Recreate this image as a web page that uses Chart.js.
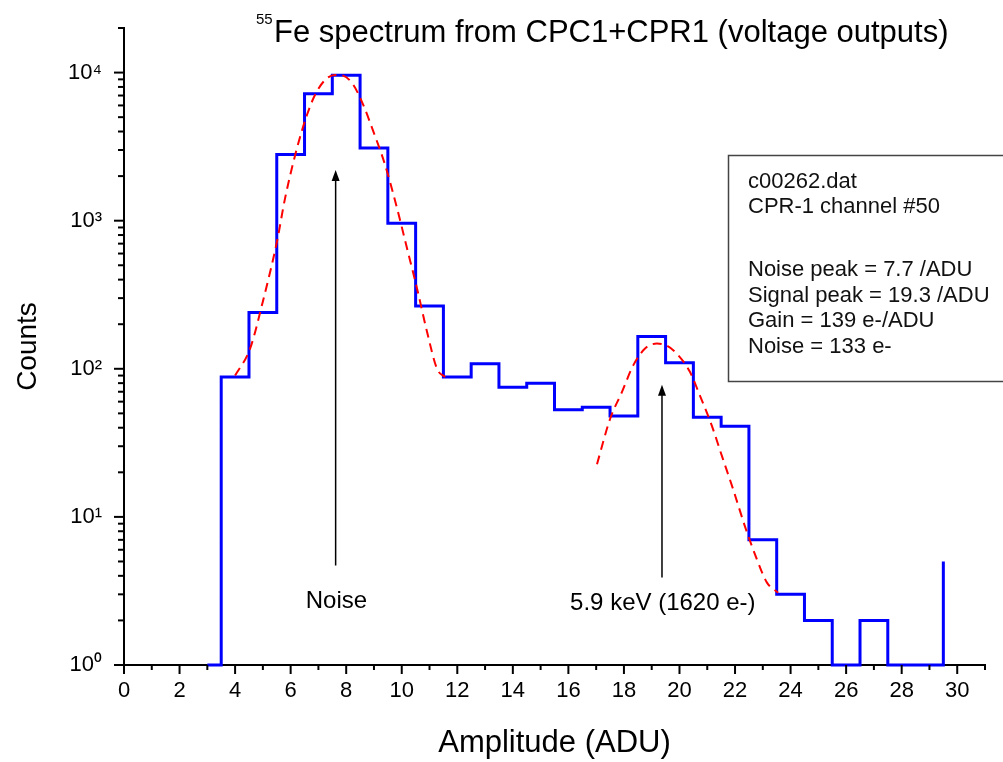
<!DOCTYPE html>
<html>
<head>
<meta charset="utf-8">
<script src="https://cdn.jsdelivr.net/npm/chart.js@4.4.0/dist/chart.umd.min.js"></script>
<style>
  html, body { margin: 0; padding: 0; background: #fff; }
  #wrap { width: 1003px; height: 762px; }
</style>
</head>
<body>
<div id="wrap"><canvas id="spectrumChart"></canvas></div>
<script>
// histogram: left edge of each bin and its count
// (empty bins are drawn on the 10^0 axis line, so they are given as 1)
const binEdges = [3, 3.5, 4.5, 5.5, 6.5, 7.5, 8.5, 9.5, 10.5, 11.5, 12.5, 13.5, 14.5, 15.5,
  16.5, 17.5, 18.5, 19.5, 20.5, 21.5, 22.5, 23.5, 24.5, 25.5, 26.5, 27.5, 28.5, 29.5];
const counts = [1, 88, 240, 2800, 7200, 9600, 3100, 960, 265, 88, 108, 75, 80, 53,
  55, 48, 165, 110, 47, 41, 7, 3, 2, 1, 2, 1, 1, 5];

// gaussian fits
const noiseFitX = [4.0, 4.54, 5.0, 5.51, 5.8, 6.23, 6.59, 6.88, 7.24, 7.6, 7.89, 8.25, 8.61,
  8.97, 9.4, 9.83, 10.19, 10.55, 10.91, 11.27, 11.56];
const noiseFitY = [90, 137, 285, 726, 1420, 3100, 5190, 7090, 8920, 9650, 9540, 8300, 6070,
  4040, 2380, 1216, 651, 349, 178, 100, 88];
const signalFitX = [17.03, 17.5, 17.93, 18.33, 18.76, 19.19, 19.55, 19.91, 20.38, 20.74,
  21.17, 21.53, 21.93, 22.36, 22.79, 23.15, 23.55];
const signalFitY = [22.7, 45.8, 69.8, 105, 137, 148, 143, 126, 95, 65.6,
  41, 25.7, 15.4, 8.6, 5.15, 3.6, 3.08];

const xTickValues = [0, 2, 4, 6, 8, 10, 12, 14, 16, 18, 20, 22, 24, 26, 28, 30];
const yTickValues = [1, 10, 100, 1000, 10000];
const yTickLabels = ["10⁰", "10¹", "10²", "10³", "10⁴"];

const infoLines = ["c00262.dat", "CPR-1 channel #50", "", "Noise peak = 7.7 /ADU",
  "Signal peak = 19.3 /ADU", "Gain = 139 e-/ADU", "Noise = 133 e-"];

const FONT = "'Liberation Sans', Arial, sans-serif";

function toPoints(xs, ys) {
  return xs.map((x, i) => ({ x: x, y: ys[i] }));
}

// arrows, labels, info box, tick marks and title
const extras = {
  id: "extras",
  afterDraw(chart) {
    const ctx = chart.ctx;
    const xs = chart.scales.x;
    const ys = chart.scales.y;
    const area = chart.chartArea;
    ctx.save();

    // tick marks
    ctx.strokeStyle = "#000";
    ctx.lineWidth = 2;
    for (let v = 0; v <= 31; v++) {
      const px = xs.getPixelForValue(v);
      const len = v % 2 === 0 ? 9 : 5;
      ctx.beginPath();
      ctx.moveTo(px, area.bottom);
      ctx.lineTo(px, area.bottom + len);
      ctx.stroke();
    }
    for (let d = 1; d <= 10000; d *= 10) {
      for (let m = 1; m <= 9; m++) {
        const v = d * m;
        if (v > ys.max) break;
        const py = ys.getPixelForValue(v);
        const len = m === 1 ? 10 : 6;
        ctx.beginPath();
        ctx.moveTo(area.left, py);
        ctx.lineTo(area.left - len, py);
        ctx.stroke();
      }
    }

    // arrows
    function arrow(x, yFrom, yTo) {
      const px = xs.getPixelForValue(x);
      const y0 = ys.getPixelForValue(yFrom);
      const y1 = ys.getPixelForValue(yTo);
      ctx.strokeStyle = "#000";
      ctx.fillStyle = "#000";
      ctx.lineWidth = 1.5;
      ctx.beginPath();
      ctx.moveTo(px, y0);
      ctx.lineTo(px, y1 + 8);
      ctx.stroke();
      ctx.beginPath();
      ctx.moveTo(px, y1);
      ctx.lineTo(px - 4, y1 + 11);
      ctx.lineTo(px + 4, y1 + 11);
      ctx.closePath();
      ctx.fill();
    }
    arrow(7.62, 4.7, 2200);
    arrow(19.37, 3.9, 78);

    ctx.font = "24px " + FONT;
    ctx.fillStyle = "#000";
    ctx.textAlign = "center";
    ctx.textBaseline = "middle";
    ctx.fillText("Noise", xs.getPixelForValue(7.65), ys.getPixelForValue(2.7));
    ctx.fillText("5.9 keV (1620 e-)", xs.getPixelForValue(19.4), ys.getPixelForValue(2.6));

    // info box
    ctx.strokeStyle = "#444";
    ctx.lineWidth = 1.5;
    ctx.strokeRect(728.5, 155.5, 290, 226);
    ctx.font = "22px " + FONT;
    ctx.textAlign = "left";
    ctx.fillStyle = "#111";
    const lineY = [182, 207, 238, 270, 296, 321, 347];
    infoLines.forEach((t, i) => {
      if (t) ctx.fillText(t, 748, lineY[i]);
    });

    // title with superscript mass number
    ctx.fillStyle = "#000";
    ctx.textBaseline = "alphabetic";
    ctx.font = "15px " + FONT;
    ctx.fillText("55", 256, 24);
    ctx.font = "31px " + FONT;
    ctx.fillText("Fe spectrum from CPC1+CPR1 (voltage outputs)", 274, 42);

    ctx.restore();
  }
};

new Chart(document.getElementById("spectrumChart").getContext("2d"), {
  type: "line",
  data: {
    datasets: [
      {
        label: "Counts",
        data: toPoints(binEdges, counts),
        borderColor: "#0000ff",
        borderWidth: 3,
        stepped: true,
        pointRadius: 0,
        fill: false,
        clip: false,
        order: 1,
      },
      {
        label: "Noise fit",
        data: toPoints(noiseFitX, noiseFitY),
        borderColor: "#ff0000",
        borderWidth: 2,
        borderDash: [9, 6],
        cubicInterpolationMode: "monotone",
        pointRadius: 0,
        fill: false,
        order: 0,
      },
      {
        label: "Signal fit",
        data: toPoints(signalFitX, signalFitY),
        borderColor: "#ff0000",
        borderWidth: 2,
        borderDash: [9, 6],
        cubicInterpolationMode: "monotone",
        pointRadius: 0,
        fill: false,
        order: 0,
      },
    ],
  },
  options: {
    responsive: true,
    maintainAspectRatio: false,
    animation: false,
    layout: { padding: { top: 28, right: 18, bottom: 0, left: 0 } },
    plugins: {
      legend: { display: false },
      tooltip: { enabled: false },
      title: { display: false },
    },
    scales: {
      x: {
        type: "linear",
        min: 0,
        max: 31,
        grid: { display: false, drawTicks: false },
        border: { display: true, color: "#000", width: 2 },
        ticks: {
          autoSkip: false,
          maxRotation: 0,
          padding: 13,
          color: "#000",
          font: { family: FONT, size: 22 },
        },
        afterBuildTicks: (scale) => {
          scale.ticks = xTickValues.map((v) => ({ value: v }));
        },
        afterFit: (scale) => {
          scale.height = 97;
          scale.paddingLeft = 0;
          scale.paddingRight = 0;
        },
        title: {
          display: true,
          text: "Amplitude (ADU)",
          color: "#000",
          font: { family: FONT, size: 31 },
          padding: { top: 0, bottom: 0 },
        },
      },
      y: {
        type: "logarithmic",
        min: 1,
        max: 20000,
        grid: { display: false, drawTicks: false },
        border: { display: true, color: "#000", width: 2 },
        ticks: {
          autoSkip: false,
          padding: 22,
          color: "#000",
          font: { family: FONT, size: 22 },
          callback: (value) => {
            const i = yTickValues.indexOf(value);
            return i >= 0 ? yTickLabels[i] : "";
          },
        },
        afterBuildTicks: (scale) => {
          scale.ticks = yTickValues.map((v) => ({ value: v }));
        },
        afterFit: (scale) => {
          scale.width = 124;
          scale.paddingTop = 0;
          scale.paddingBottom = 0;
        },
        title: {
          display: true,
          text: "Counts",
          color: "#000",
          font: { family: FONT, size: 28 },
          padding: { top: 11, bottom: 0 },
        },
      },
    },
  },
  plugins: [extras],
});
</script>
</body>
</html>
